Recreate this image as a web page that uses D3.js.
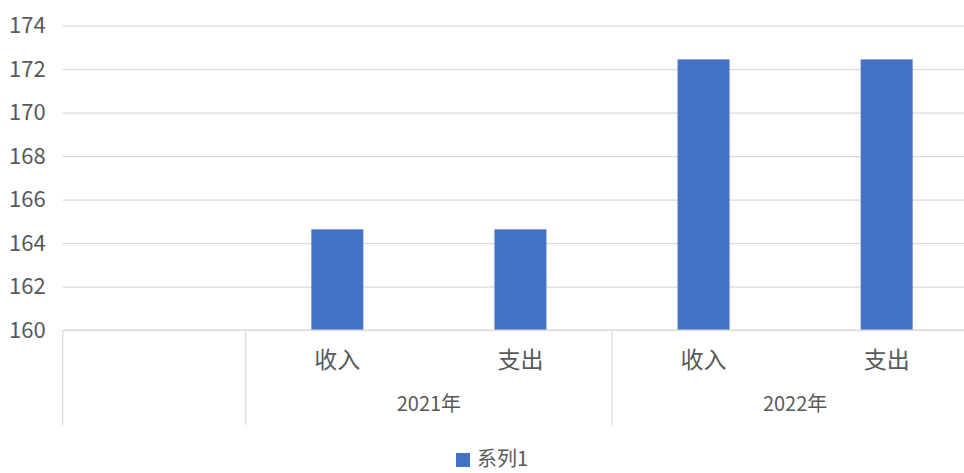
<!DOCTYPE html>
<html><head><meta charset="utf-8">
<script src="https://cdn.jsdelivr.net/npm/d3@7"></script>
<style>
html,body{margin:0;padding:0;background:#fff;overflow:hidden}
text{font-family:"Noto Sans CJK SC","Noto Sans",sans-serif;fill:#595959}
</style></head>
<body>
<script>
const categories = ["", "收入", "支出", "收入", "支出"];
const groups = ["", "2021年", "2021年", "2022年", "2022年"];
const groupLabels = ["2021年", "2022年"];
const values = [null, 164.63, 164.63, 172.45, 172.45];
const yTicks = [160, 162, 164, 166, 168, 170, 172, 174];
const seriesName = "系列1";

const W = 964, H = 473;
const svg = d3.select("body").append("svg").attr("width", W).attr("height", H);

const left = 62.7, step = 183.1;
const x = d3.scaleBand().domain(d3.range(categories.length)).range([left, left + step * categories.length]).padding(0);
const y = d3.scaleLinear().domain([160, 174]).range([330, 25.7]);
const barW = x.bandwidth() * 0.284;

// gridlines
const gy = d3.axisLeft(y).tickValues(yTicks).tickSize(-(x.range()[1] - left)).tickFormat(d3.format("d")).tickPadding(17);
const g = svg.append("g").attr("transform", `translate(${left},0)`).call(gy);
g.select(".domain").remove();
g.selectAll(".tick line").attr("stroke", "#d9d9d9").attr("stroke-width", 1.2);
g.selectAll(".tick text").attr("font-size", 22).style("fill", "#595959");

// bars
svg.append("g").selectAll("rect").data(values.map((v, i) => ({v, i})).filter(d => d.v != null))
  .join("rect")
  .attr("x", d => x(d.i) + (x.bandwidth() - barW) / 2)
  .attr("width", barW)
  .attr("y", d => y(d.v))
  .attr("height", d => y(160) - y(d.v))
  .attr("fill", "#4472C4");

// category axis baseline
svg.append("line").attr("x1", left).attr("x2", x.range()[1]).attr("y1", y(160)).attr("y2", y(160))
  .attr("stroke", "#d9d9d9").attr("stroke-width", 1.2);

// separators
const seps = [0];
for (let i = 1; i < categories.length; i++) if (groups[i] !== groups[i - 1]) seps.push(i);
const sepX = seps.map(i => x(i)).concat([x.range()[1]]);
svg.append("g").selectAll("line").data(sepX).join("line")
  .attr("x1", d => d).attr("x2", d => d).attr("y1", y(160)).attr("y2", 425)
  .attr("stroke", "#d9d9d9").attr("stroke-width", 1.2);

// category labels
svg.append("g").selectAll("text").data(categories.map((c, i) => ({c, i})))
  .join("text")
  .attr("x", d => x(d.i) + x.bandwidth() / 2)
  .attr("y", 360).attr("dy", "0.35em")
  .attr("text-anchor", "middle").attr("font-size", 23)
  .text(d => d.c);

// group labels
svg.append("g").selectAll("text").data(groupLabels).join("text")
  .attr("x", gl => {
    const idx = groups.map((g, i) => g === gl ? i : -1).filter(i => i >= 0);
    return (x(idx[0]) + x(idx[idx.length - 1]) + x.bandwidth()) / 2;
  })
  .attr("y", 404).attr("dy", "0.35em")
  .attr("text-anchor", "middle").attr("font-size", 20)
  .text(d => d);

// legend
const lg = svg.append("g");
lg.append("rect").attr("x", 456).attr("y", 453).attr("width", 14).attr("height", 14).attr("fill", "#4472C4");
lg.append("text").attr("x", 477).attr("y", 459).attr("dy", "0.35em").attr("font-size", 20).text(seriesName);
</script>
</body></html>
